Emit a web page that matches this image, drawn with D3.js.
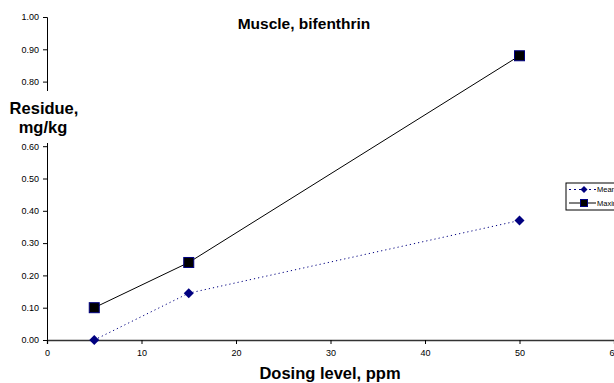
<!DOCTYPE html>
<html><head><meta charset="utf-8">
<script src="https://cdn.jsdelivr.net/npm/d3@7"></script>
<style>body{margin:0;background:#fff}svg{display:block;font-family:"Liberation Sans",Arial,sans-serif}</style>
</head><body><svg id="c" width="614" height="383"></svg>
<script>
const dosing = [5, 15, 50];
const meanVals = [0, 0.145, 0.37];
const maxVals = [0.10, 0.24, 0.88];
const xTicks = [0, 10, 20, 30, 40, 50, 60];
const yTicks = [0, 0.1, 0.2, 0.3, 0.4, 0.5, 0.6, 0.8, 0.9, 1.0];
const seriesNames = ["Mean", "Maximum"];

const svg = d3.select("#c");
const x = d3.scaleLinear().domain([0, 60]).range([47, 614]);
const y = d3.scaleLinear().domain([0, 1]).range([340, 17]);

// axes
const yAxis = svg.append("g").attr("transform", "translate(47,0)")
  .call(d3.axisLeft(y).tickValues(yTicks).tickFormat(d3.format(".2f")).tickSize(4).tickPadding(4));
yAxis.selectAll("path,line").attr("stroke", "#000");
yAxis.selectAll("text").attr("font-size", 9).attr("fill", "#000").attr("font-family", "Liberation Sans, Arial");
const xAxis = svg.append("g").attr("transform", "translate(0,340)")
  .call(d3.axisBottom(x).tickValues(xTicks).tickFormat(d3.format("d")).tickSize(4).tickPadding(5.5));
xAxis.select("path").attr("stroke", "#333").attr("stroke-width", 1.3);
xAxis.selectAll("line").attr("stroke", "#000");
xAxis.selectAll("text").attr("font-size", 9).attr("fill", "#000").attr("font-family", "Liberation Sans, Arial");

// series
const line = d3.line().x(d => x(d[0])).y(d => y(d[1]));
const meanPts = dosing.map((d, i) => [d, meanVals[i]]);
const maxPts = dosing.map((d, i) => [d, maxVals[i]]);
svg.append("path").datum(meanPts).attr("d", line).attr("fill", "none")
  .attr("stroke", "#000080").attr("stroke-width", 1).attr("stroke-dasharray", "1.2,3");
svg.append("path").datum(maxPts).attr("d", line).attr("fill", "none")
  .attr("stroke", "#000").attr("stroke-width", 1);
svg.selectAll(".dia").data(meanPts).enter().append("path")
  .attr("transform", d => `translate(${x(d[0])},${y(d[1])})`)
  .attr("d", "M0,-5L5,0L0,5L-5,0Z").attr("fill", "#000080");
svg.selectAll(".sq").data(maxPts).enter().append("rect")
  .attr("x", d => x(d[0]) - 5).attr("y", d => y(d[1]) - 5)
  .attr("width", 10).attr("height", 10).attr("fill", "#000")
  .attr("stroke", "#000080").attr("stroke-width", 1);

// y axis title with white background
svg.append("rect").attr("x", 4).attr("y", 91).attr("width", 80).attr("height", 52).attr("fill", "#fff");
svg.append("text").attr("x", 44).attr("y", 114).attr("text-anchor", "middle")
  .attr("font-size", 16.5).attr("font-weight", "bold").text("Residue,");
svg.append("text").attr("x", 43).attr("y", 133).attr("text-anchor", "middle")
  .attr("font-size", 16.5).attr("font-weight", "bold").text("mg/kg");

// title
svg.append("text").attr("x", 304).attr("y", 29).attr("text-anchor", "middle")
  .attr("font-size", 15.5).attr("font-weight", "bold").text("Muscle, bifenthrin");
// x title
svg.append("text").attr("x", 330).attr("y", 379).attr("text-anchor", "middle")
  .attr("font-size", 16.5).attr("font-weight", "bold").text("Dosing level, ppm");

// legend
const lg = svg.append("g").attr("transform", "translate(566,183)");
lg.append("rect").attr("width", 60).attr("height", 27).attr("fill", "#fff").attr("stroke", "#000").attr("stroke-width", 1);
seriesNames.forEach((n, i) => {
  const yy = 6.5 + i * 13.5;
  lg.append("line").attr("x1", 3).attr("x2", 30).attr("y1", yy).attr("y2", yy)
    .attr("stroke", i === 0 ? "#000080" : "#000").attr("stroke-dasharray", i === 0 ? "2,3" : null);
  if (i === 0) lg.append("path").attr("transform", `translate(18,${yy})`).attr("d", "M0,-3.5L3.5,0L0,3.5L-3.5,0Z").attr("fill", "#000080");
  else lg.append("rect").attr("x", 14.5).attr("y", yy - 3.5).attr("width", 7).attr("height", 7).attr("fill", "#000").attr("stroke", "#000080");
  lg.append("text").attr("x", 31).attr("y", yy + 2.5).attr("font-size", 7.5).text(n);
});
</script></body></html>
